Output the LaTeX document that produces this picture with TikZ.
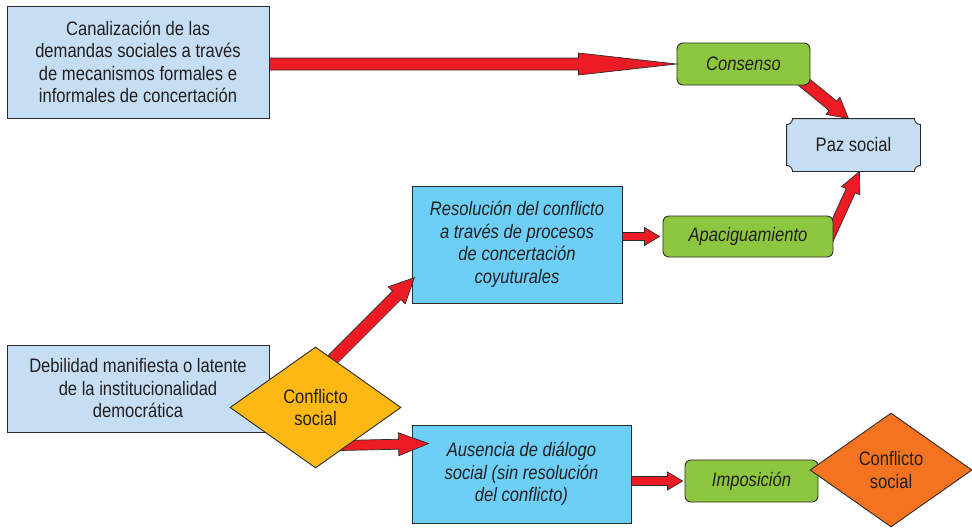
\documentclass[tikz,border=0pt]{standalone}
\usepackage{fontspec}
\setmainfont{Liberation Sans}[FakeStretch=0.85]
\usetikzlibrary{shapes.geometric,calc,backgrounds}
\definecolor{lblue}{HTML}{C6DEF3}
\definecolor{cyanb}{HTML}{6DCFF6}
\definecolor{greenb}{HTML}{8DC63F}
\definecolor{yellowd}{HTML}{FDB813}
\definecolor{oranged}{HTML}{F37321}
\definecolor{redarr}{HTML}{ED1C24}
\definecolor{txt}{HTML}{231F20}
\definecolor{edge}{HTML}{2B2B2B}
\tikzset{
  base/.style={draw=edge, line width=0.9pt, text=txt, align=center, inner sep=0pt,
    font=\fontsize{19.5}{22.5}\selectfont},
  lbox/.style={base, rectangle, fill=lblue},
  cbox/.style={base, rectangle, fill=cyanb, font=\fontsize{19.5}{22.5}\selectfont\itshape},
  gbox/.style={base, rectangle, rounded corners=6pt, fill=greenb,
    font=\fontsize{19.5}{22.5}\selectfont\itshape},
  dia/.style={base, diamond},
  blockarr/.style={fill=redarr, draw=edge, line width=0.7pt, line join=miter},
}
% tail, tip, shaft half width, head half width, head length
\newcommand{\blockarrow}[5]{%
  \path (#1); \pgfgetlastxy{\bax}{\bay}%
  \path (#2); \pgfgetlastxy{\bbx}{\bby}%
  \pgfmathsetmacro\bang{atan2(\bby-\bay,\bbx-\bax)}%
  \pgfmathsetmacro\blen{veclen(\bbx-\bax,\bby-\bay)}%
  \filldraw[blockarr, shift={(\bax,\bay)}, rotate=\bang]
    (0,#3) -- ({\blen pt-#5},#3) -- ({\blen pt-#5},#4) -- (\blen pt,0)
    -- ({\blen pt-#5},-#4) -- ({\blen pt-#5},-#3) -- (0,-#3) -- cycle;
}
\begin{document}
\begin{tikzpicture}[x=1pt,y=-1pt]
\useasboundingbox (0,0) rectangle (972,528);

% boxes
\node[lbox, minimum width=262pt, minimum height=112pt] (can) at (138,62)
  {Canalización de las\\demandas sociales a través\\de mecanismos formales e\\informales de concertación};
\node[gbox, minimum width=133pt, minimum height=42pt] (cons) at (743.5,64) {Consenso};
\node[base, draw=none, fill=none, minimum width=133pt, minimum height=52pt] (paz) at (853.5,145) {};
\filldraw[draw=edge, line width=0.9pt, fill=lblue]
  ([yshift=-6pt]paz.north west) arc[start angle=270, end angle=360, radius=6pt]
  -- ([xshift=-6pt]paz.north east) arc[start angle=180, end angle=270, radius=6pt]
  -- ([yshift=6pt]paz.south east) arc[start angle=90, end angle=180, radius=6pt]
  -- ([xshift=6pt]paz.south west) arc[start angle=0, end angle=90, radius=6pt]
  -- cycle;
\node[text=txt, font=\fontsize{19.5}{22.5}\selectfont] at (paz.center) {Paz social};
\node[cbox, minimum width=210pt, minimum height=117pt] (res) at (517,244.5)
  {Resolución del conflicto\\a través de procesos\\de concertación\\coyuturales};
\node[gbox, minimum width=170pt, minimum height=41pt] (apac) at (748,236.5) {Apaciguamiento};
\node[lbox, minimum width=262pt, minimum height=87pt] (deb) at (138,388.5)
  {Debilidad manifiesta o latente\\de la institucionalidad\\democrática};
\node[cbox, minimum width=219pt, minimum height=98pt] (aus) at (521.5,474)
  {Ausencia de diálogo\\social (sin resolución\\del conflicto)};
\node[gbox, minimum width=133pt, minimum height=42pt] (imp) at (751.5,481) {Imposición};

% anchor points for arrow tails hidden under shapes
\coordinate (ydc) at (315.5,407.5);
\coordinate (t1) at ($(ydc)+(5,-36)$);
\coordinate (t2) at ($(ydc)+(25,38)$);

% arrows emerging from under the green boxes
\begin{pgfonlayer}{background}
\blockarrow{$(cons.south east)+(-11,-7)$}{$(paz.north)+(-5,0)$}{6pt}{11pt}{20pt}
\blockarrow{$(apac.east)+(-5,3)$}{$(paz.south)+(6,0)$}{5pt}{10pt}{21pt}
\end{pgfonlayer}

% arrows
\blockarrow{can.east |- cons.west}{cons.west}{6pt}{11pt}{98pt}
\blockarrow{res.east |- apac.west}{$(apac.west)+(-3,0)$}{4pt}{9pt}{15pt}
\blockarrow{aus.east |- imp.west}{$(imp.west)+(-2,0)$}{4.5pt}{9pt}{15pt}
\blockarrow{t1}{$(res.south west)+(3,-26)$}{6pt}{12pt}{25pt}
\blockarrow{t2}{$(aus.north west)+(17,19)$}{5pt}{11.5pt}{30pt}

% diamonds
\node[dia, fill=yellowd, minimum width=171pt, minimum height=121pt, aspect=1.41] (yd) at (ydc)
  {Conflicto\\social};
\node[dia, fill=oranged, minimum width=162pt, minimum height=114pt, aspect=1.42] (od) at (891,470)
  {Conflicto\\social};
\end{tikzpicture}
\end{document}
